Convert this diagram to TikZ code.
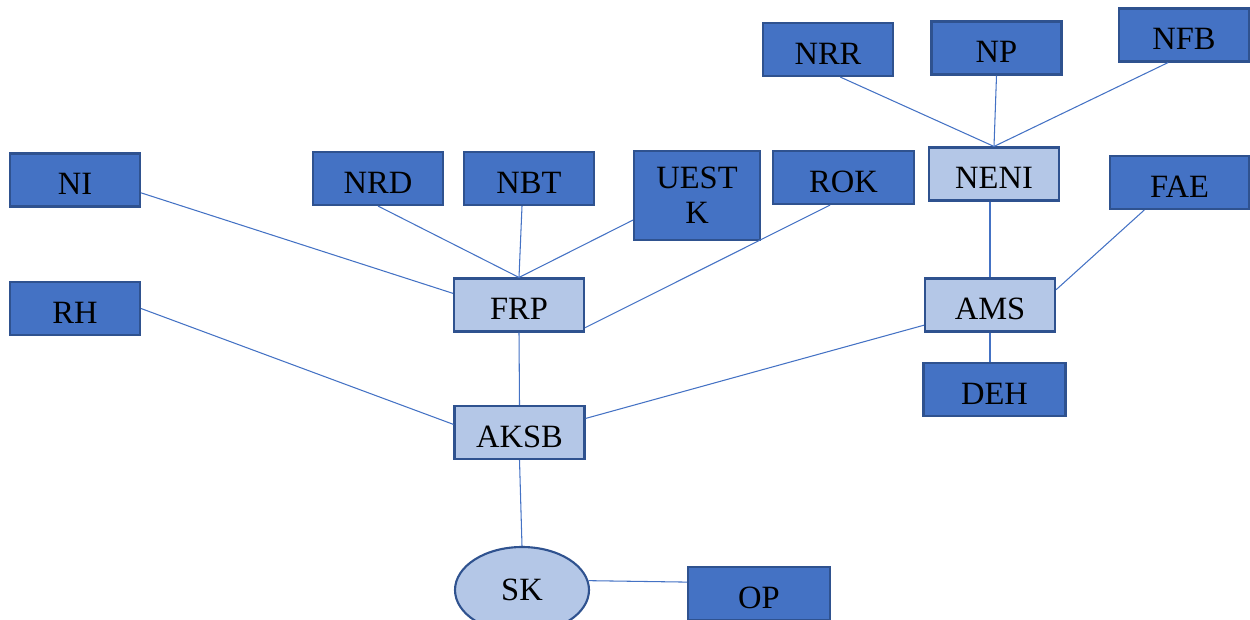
\documentclass[tikz,border=0pt]{standalone}
\usepackage{fontspec}
\setmainfont{Liberation Serif}
\usepackage{tikz}
\usetikzlibrary{shapes.geometric,positioning,calc}
\usepackage{xcolor}
\definecolor{DarkBlue}{HTML}{4472C4}
\definecolor{LightBlue}{HTML}{B4C7E7}
\definecolor{EdgeBlue}{HTML}{2F528F}
\definecolor{LinkBlue}{HTML}{4472C4}

\begin{document}
\begin{tikzpicture}[
    leaf/.style={draw=EdgeBlue, fill=DarkBlue, line width=1.2pt, font=\fontsize{18.5}{20}\selectfont, minimum width=2.6cm, minimum height=1.06cm, inner sep=0pt, text height=16.5pt, text depth=0pt},
    hub/.style={leaf, fill=LightBlue},
    root/.style={ellipse, draw=EdgeBlue, fill=LightBlue, line width=1.2pt, font=\fontsize{18.5}{20}\selectfont, minimum width=2.68cm, minimum height=1.72cm, inner sep=0pt},
    link/.style={draw=LinkBlue, line width=0.6pt}
  ]
    \useasboundingbox (0,0) rectangle (25,-12.38);

    % top row
    \node[leaf] (nrr) at (16.56, -0.99) {NRR};
    \node[leaf] (np) at (19.93, -0.96) {NP};
    \node[leaf] (nfb) at (23.68, -0.70) {NFB};

    % second row
    \node[leaf] (ni) at (1.50, -3.60) {NI};
    \node[leaf] (nrd) at (7.56, -3.57) {NRD};
    \node[leaf] (nbt) at (10.58, -3.57) {NBT};
    \node[leaf, minimum width=2.52cm, minimum height=1.78cm, align=center, text height={}, text depth={}] (uestk) at (13.94, -3.91) {UEST\\K};
    \node[leaf, minimum width=2.82cm] (rok) at (16.87, -3.55) {ROK};
    \node[hub] (neni) at (19.88, -3.48) {NENI};
    \node[leaf, minimum width=2.78cm] (fae) at (23.59, -3.65) {FAE};

    % middle
    \node[leaf] (rh) at (1.50, -6.17) {RH};
    \node[hub] (frp) at (10.38, -6.10) {FRP};
    \node[hub] (ams) at (19.80, -6.10) {AMS};
    \node[leaf, minimum width=2.84cm] (deh) at (19.89, -7.79) {DEH};
    \node[hub] (aksb) at (10.39, -8.65) {AKSB};

    % bottom
    \node[root] (sk) at (10.44, -11.80) {SK};
    \node[leaf, minimum width=2.84cm] (op) at (15.18, -11.87) {OP};

    \draw[link] (nrr.-66) -- (neni.north);
    \draw[link] (np.south) -- (neni.north);
    \draw[link] (nfb.240) -- (neni.north);
    \draw[link] (neni.south -| ams.north) -- (ams.north);
    \draw[link] (fae.218) -- (ams.13);
    \draw[link] (ams.south) -- (ams.south |- deh.north);

    \draw[link] (ni.-11) -- (frp.170);
    \draw[link] (nrd.south) -- (frp.north);
    \draw[link] ($(nbt.south)+(-0.14,0)$) -- (frp.north);
    \draw[link] (uestk.201) -- (frp.north);
    \draw[link] (rok.244) -- (frp.-19);

    \draw[link] (frp.south) -- (aksb.north);
    \draw[link] (rh.east) -- (aksb.173);
    \draw[link] (ams.197) -- (aksb.12);
    \draw[link] (aksb.south) -- (sk.north);
    \draw[link] (sk.8) -- (op.171);
  \end{tikzpicture}
\end{document}
